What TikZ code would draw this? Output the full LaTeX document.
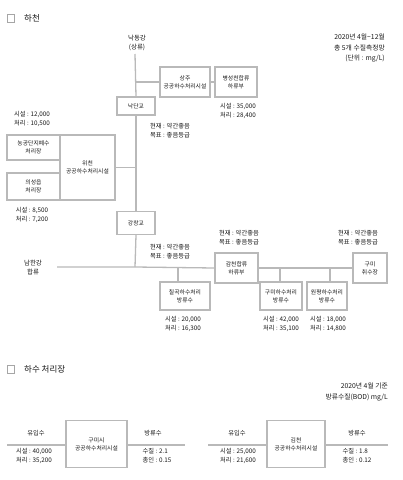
\documentclass[tikz,border=0pt]{standalone}
\usepackage{fontspec}
\setmainfont{Noto Sans CJK KR}
\begin{document}
\begin{tikzpicture}[x=1pt,y=1pt,yscale=-1,xscale=1,
  plant/.style={draw=gray!55,line width=1.3pt,fill=white,align=center,inner sep=1pt,
    font=\fontsize{5.8}{8}\selectfont,text=black!90},
  note/.style={align=left,inner sep=0pt,font=\fontsize{6.3}{9}\selectfont,text=black!90},
  pipe/.style={draw=gray!55,line width=1.3pt},
  head/.style={anchor=west,inner sep=0pt,font=\fontsize{8.5}{9}\selectfont,text=black!90}]
\useasboundingbox (0,0) rectangle (403,480);

%Titles
\draw [gray!70,line width=1pt] (7,14) rectangle (14,22);
\node [head] (t1) at (24,18) {하천};
\draw [gray!70,line width=1pt] (7,365) rectangle (14,373);
\node [head] (t2) at (24,369) {하수 처리장};

%Notes top right
\node [note,align=right,anchor=north east,font=\fontsize{6.8}{10.5}\selectfont] (nt1) at (385,34) {2020년 4월\textasciitilde 12월\\총 5개 수질측정망\\(단위 : mg/L)};
\node [note,align=right,anchor=north east,font=\fontsize{6.8}{11}\selectfont] (nt2) at (388,383) {2020년 4월 기준\\방류수질(BOD) mg/L};

%River main stem
\node [note,align=center,font=\fontsize{6.5}{9}\selectfont] (src) at (137,43) {낙동강\\(상류)};
\coordinate (top) at (135,54);
\coordinate (jn) at (135,267);
\node [plant,minimum width=50,minimum height=30] (p1) at (185,82) {상주\\공공하수처리시설};
\node [plant,minimum width=42,minimum height=30] (p2) at (236,82) {병성천합류\\하류부};
\node [plant,minimum width=38,minimum height=18] (b1) at (136,106) {낙단교};
\node [plant,minimum width=38,minimum height=23] (b2) at (136,223) {강창교};
\draw [pipe] (top) -- (b1.north);
\draw [pipe] (b1.south) -- (b2.north);
\draw [pipe] (b2.south) -- (jn);
\draw [pipe] (top |- p1) -- (p1.west);
\draw [pipe] (p1.east) -- (p2.west);
\node [note] (n1) at (238,111) {시설 : 35,000\\처리 : 28,400};
\node [note] (n2) at (170,131) {현재 : 약간좋음\\목표 : 좋음등급};

%Left tributary
\node [plant,minimum width=55,minimum height=65] (lc) at (87.5,167.5) {위천\\공공하수처리시설};
\node [plant,minimum width=53,minimum height=25] (la) at (33.5,147.5) {농공단지폐수\\처리장};
\node [plant,minimum width=53,minimum height=27] (lb) at (33.5,186.5) {의성읍\\처리장};
\draw [pipe] (lc.east) -- (lc.east -| top);
\node [note] (n3) at (32,119) {시설 : 12,000\\처리 : 10,500};
\node [note] (n4) at (32,215) {시설 : 8,500\\처리 : 7,200};

%Main horizontal reach
\node [note,align=center,font=\fontsize{6.5}{9}\selectfont] (nh) at (33,268) {남한강\\합류};
\coordinate (hl) at (57,267);
\node [plant,minimum width=43,minimum height=30] (m1) at (236.5,268) {감천합류\\하류부};
\node [plant,minimum width=34,minimum height=30] (r1) at (370,268) {구미\\취수장};
\node [plant,minimum width=50,minimum height=28] (d1) at (185,296) {칠곡하수처리\\방류수};
\node [plant,minimum width=42,minimum height=28] (d2) at (281,296) {구미하수처리\\방류수};
\node [plant,minimum width=40,minimum height=28] (d3) at (327,296) {원평하수처리\\방류수};
\coordinate (k1) at (178,267);
\coordinate (k2) at (280,267);
\coordinate (k3) at (330,267);
\draw [pipe] (hl) -- (jn) -- (m1.west);
\draw [pipe] (m1.east) -- (r1.west);
\draw [pipe] (k1) -- (k1 |- d1.north);
\draw [pipe] (k2) -- (k2 |- d2.north);
\draw [pipe] (k3) -- (k3 |- d3.north);
\node [note] (n5) at (170,252) {현재 : 약간좋음\\목표 : 좋음등급};
\node [note] (n6) at (239,238) {현재 : 약간좋음\\목표 : 좋음등급};
\node [note] (n7) at (358,238) {현재 : 약간좋음\\목표 : 좋음등급};
\node [note] (n8) at (183,324) {시설 : 20,000\\처리 : 16,300};
\node [note] (n9) at (281,324) {시설 : 42,000\\처리 : 35,100};
\node [note] (n10) at (328,324) {시설 : 18,000\\처리 : 14,800};

%Sewage treatment plants
\node [plant,minimum width=61,minimum height=47] (s1) at (96.5,444) {구미시\\공공하수처리시설};
\node [plant,minimum width=58,minimum height=47] (s2) at (296,444) {김천\\공공하수처리시설};
\coordinate (i1) at (7,445);
\coordinate (o1) at (185,445);
\coordinate (i2) at (208,445);
\coordinate (o2) at (388,445);
\draw [pipe] (i1) -- (i1 -| s1.west);
\draw [pipe] (o1 -| s1.east) -- (o1);
\draw [pipe] (i2) -- (i2 -| s2.west);
\draw [pipe] (o2 -| s2.east) -- (o2);
\node [note,align=center] (u1) at (36,433) {유입수};
\node [note,align=center] (v1) at (153,433) {방류수};
\node [note,align=center] (u2) at (237,433) {유입수};
\node [note,align=center] (v2) at (357,433) {방류수};
\node [note] (w1) at (34,456) {시설 : 40,000\\처리 : 35,200};
\node [note] (x1) at (157,456) {수질 : 2.1\\총인 : 0.15};
\node [note] (w2) at (238,456) {시설 : 25,000\\처리 : 21,600};
\node [note] (x2) at (357,456) {수질 : 1.8\\총인 : 0.12};
\end{tikzpicture}
\end{document}
